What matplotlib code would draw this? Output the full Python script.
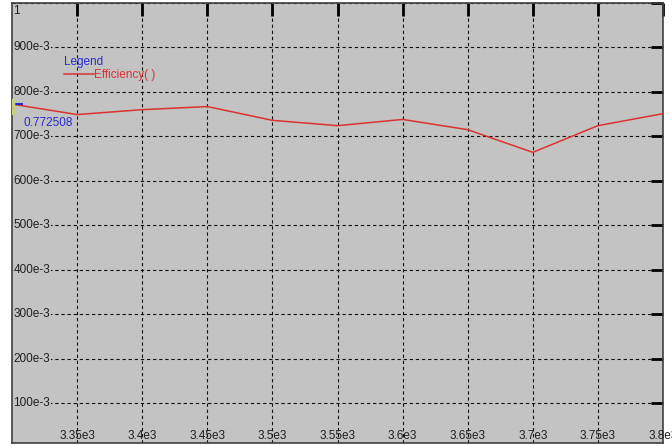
import matplotlib.pyplot as plt
from matplotlib import transforms

# data
freq = [3300, 3350, 3400, 3450, 3500, 3550, 3600, 3650, 3700, 3750, 3800]
efficiency = [0.7725, 0.749, 0.760, 0.767, 0.736, 0.724, 0.738, 0.715, 0.664, 0.724, 0.751]

x_ticks = [3350, 3400, 3450, 3500, 3550, 3600, 3650, 3700, 3750, 3800]
x_labels = ["3.35e3", "3.4e3", "3.45e3", "3.5e3", "3.55e3", "3.6e3",
            "3.65e3", "3.7e3", "3.75e3", "3.8e3"]
y_ticks = [0.1, 0.2, 0.3, 0.4, 0.5, 0.6, 0.7, 0.8, 0.9, 1.0]
y_labels = ["100e-3", "200e-3", "300e-3", "400e-3", "500e-3", "600e-3",
            "700e-3", "800e-3", "900e-3", "1"]

plt.rcParams['font.family'] = ['Liberation Sans', 'DejaVu Sans']

W, H = 672, 446
fig = plt.figure(figsize=(W / 100, H / 100), dpi=100)
fig.patch.set_facecolor('white')
ax = fig.add_axes([12 / W, 3 / H, 651 / W, 440 / H])
ax.set_facecolor('#c3c3c3')

ax.set_xlim(3300, 3800)
ax.set_ylim(0.01, 1.0)

# dashed black grid
for xv in x_ticks[:-1]:
    ax.axvline(xv, color='#101010', lw=0.8, ls=(0, (3, 2.5)), zorder=1)
for yv in y_ticks:
    ax.axhline(yv, color='#101010', lw=0.8, ls=(0, (3, 2.5)), zorder=1)

# heavy tick marks on top and right edges
ax.set_xticks(x_ticks)
ax.set_yticks(y_ticks)
ax.tick_params(axis='both', which='both', direction='in', length=9, width=2.0,
               bottom=False, left=False, top=True, right=True,
               labelbottom=False, labelleft=False, color='black')

for sp in ax.spines.values():
    sp.set_color('#404040')
    sp.set_linewidth(1.2)

ax.plot(freq, efficiency, color='#dc3232', lw=1.1, zorder=3, label='Efficiency( )')

# tick labels drawn inside the plot area
tx = transforms.blended_transform_factory(ax.transData, ax.transAxes)
for xv, lab in zip(x_ticks, x_labels):
    ax.text(xv, 0.003, lab, transform=tx, ha='center', va='bottom',
            fontsize=8.5, color='#202020')
ty = transforms.blended_transform_factory(ax.transAxes, ax.transData)
for yv, lab in zip(y_ticks, y_labels):
    if lab == "1":
        ax.text(0.002, yv - 0.005, lab, transform=ty, ha='left', va='top',
                fontsize=8.5, color='#202020')
    else:
        ax.text(0.002, yv, lab, transform=ty, ha='left', va='center',
                fontsize=8.5, color='#202020',
                bbox=dict(facecolor='#c3c3c3', edgecolor='none', pad=0.5))

# legend
leg = ax.legend(title='Legend', loc='upper left', bbox_to_anchor=(0.072, 0.89),
                frameon=False, handlelength=2.6, handletextpad=0.0,
                borderaxespad=0, fontsize=8.5, title_fontsize=8.5,
                alignment='left', labelspacing=0.1)
leg.get_title().set_color('#2a2ad0')
for t in leg.get_texts():
    t.set_color('#dc3232')

# cursor readout at the first point
ax.plot([3303, 3308], [efficiency[0], efficiency[0]], color='#2a2ad0', lw=1.5, zorder=4)
ax.axvline(3300.5, ymin=0.75, ymax=0.78, color='#c8d080', lw=2.5, zorder=4)
ax.text(3309, efficiency[0] - 0.043, "0.772508", ha='left', va='center',
        fontsize=8.5, color='#2a2ad0')

fig.savefig('out.png', dpi=100, facecolor='white')
